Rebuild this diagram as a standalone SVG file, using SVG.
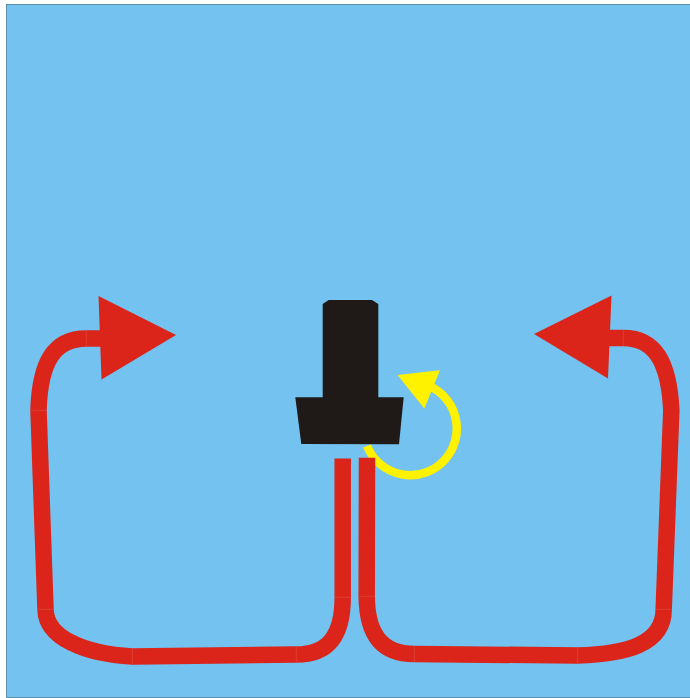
<svg xmlns="http://www.w3.org/2000/svg" width="690" height="698" viewBox="0 0 690 698">
  <style>
    .bg { fill: #73c2ef; stroke: #5f8ea8; stroke-width: 1; }
    .red { fill: none; stroke: #db251b; stroke-width: 16.5; stroke-linecap: butt; stroke-linejoin: round; }
    .seam { fill: none; stroke: #e2564d; stroke-width: 0.5; }
    .redfill { fill: #db251b; }
    .yellow { fill: none; stroke: #fff200; stroke-width: 8.5; }
    .yellowfill { fill: #fff200; }
    .black { fill: #1f1a17; }
  </style>
  <rect width="690" height="698" fill="#ffffff"/>
  <rect class="bg" x="6.500" y="4.500" width="690" height="693"/>
  <g id="connectors">
    <g id="rotation-arrow">
      <path class="yellow" d="M367 446 A46.600 46.600 0 1 0 424 384"/>
      <polygon class="yellowfill" points="397.500,375 440,370.300 424.300,408.500"/>
    </g>
    <g id="left-flow">
      <path class="red" d="M342.700 458.500 L342.700 597.300 C342.700 636 328 654.600 296.300 654.600 L132.300 656.500 C85 654 46 638 45.500 609.300 L38.500 410.300 C40 362 54 338.500 86.300 338.500 L102 338.500"/>
      <path class="seam" d="M296.300 647 V662 M132.300 649 V664 M38 609.300 H53 M31 410.300 H46 M86.300 331 V346 M335 597.300 H350"/>
      <polygon class="redfill" points="98.500,296 176,335 101.500,379.500"/>
    </g>
    <g id="right-flow">
      <path class="red" d="M367 457.800 L366.700 596.300 C367 632 380 654 414.300 654 L577.700 655.500 C625 654 663.700 645 663.700 609.300 L671.300 410.300 C669 362 655 338 623.300 338 L608 338"/>
      <path class="seam" d="M414.300 646 V662 M577.700 648 V663 M656 609.300 H671.700 M623.300 330 V346 M359 596.300 H374.700"/>
      <polygon class="redfill" points="611.500,295.500 534,334 608,378.500"/>
    </g>
  </g>
  <g id="valve-body">
    <polygon class="black" points="322.700,304 328.700,300 372,300 378.300,304 378.300,397.300 403.700,397.300 399,444.300 301.300,444 295.300,397.300 322.700,397.300"/>
  </g>
</svg>
